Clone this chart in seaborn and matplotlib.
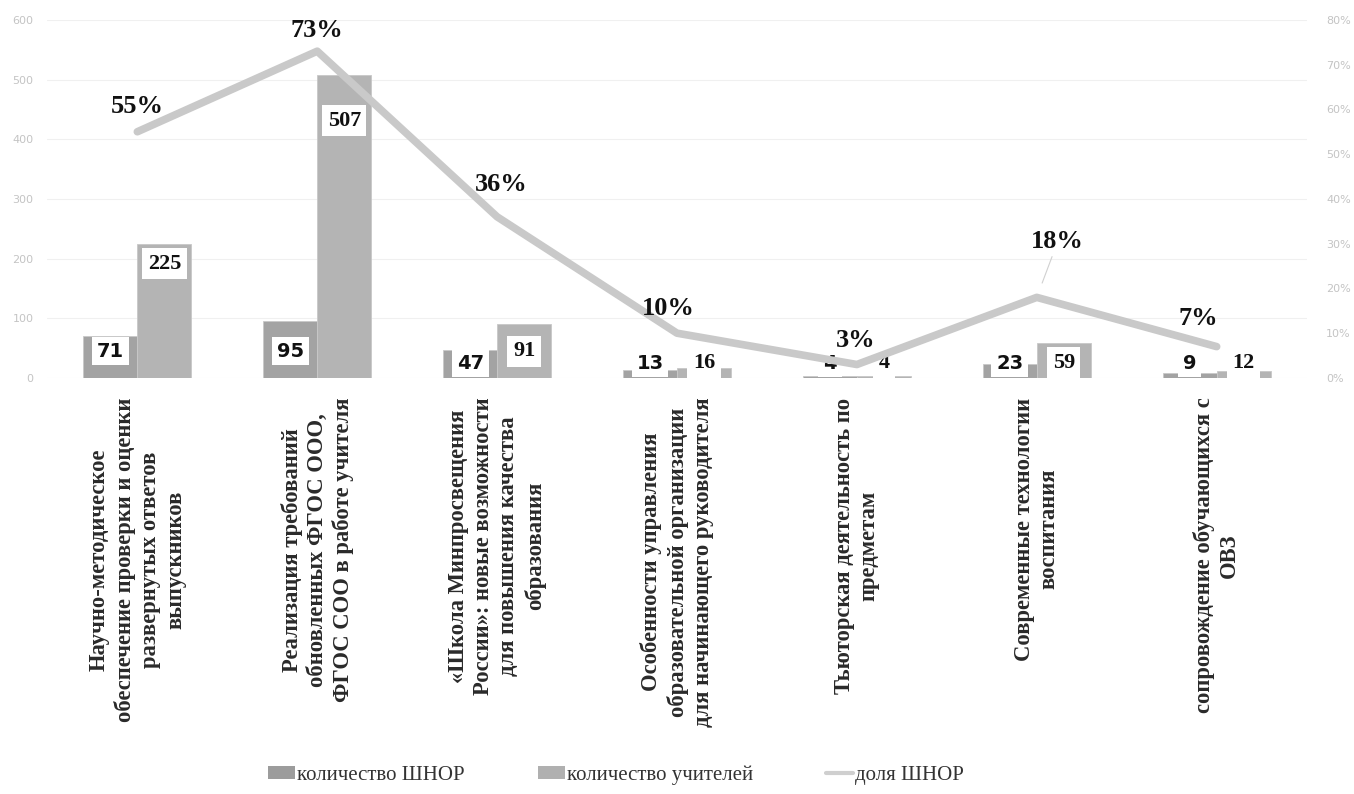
import numpy as np
import pandas as pd
import matplotlib
matplotlib.use("Agg")
import matplotlib.pyplot as plt
import seaborn as sns
from matplotlib.ticker import PercentFormatter, MultipleLocator
from matplotlib.patches import Patch
from matplotlib.lines import Line2D

categories = [
    "Научно-методическое\nобеспечение проверки и оценки\nразвернутых ответов\nвыпускников",
    "Реализация требований\nобновленных ФГОС ООО,\nФГОС СОО в работе учителя",
    "«Школа Минпросвещения\nРоссии»: новые возможности\nдля повышения качества\nобразования",
    "Особенности управления\nобразовательной организации\nдля начинающего руководителя",
    "Тьюторская деятельность по\nпредметам",
    "Современные технологии\nвоспитания",
    "сопровождение обучающихся с\nОВЗ",
]
shnor = [71, 95, 47, 13, 4, 23, 9]
teachers = [225, 507, 91, 16, 4, 59, 12]
share = [55, 73, 36, 10, 3, 18, 7]
series_names = ["количество ШНОР", "количество учителей", "доля ШНОР"]

sns.set_theme(style="white")
plt.rcParams["font.family"] = ["Liberation Serif", "DejaVu Serif"]

df = pd.DataFrame({
    "cat": categories * 2,
    "series": [series_names[0]] * 7 + [series_names[1]] * 7,
    "value": shnor + teachers,
})

fig = plt.figure(figsize=(13.54, 7.94), dpi=100)
ax = fig.add_axes([0.035, 0.524, 0.93, 0.451])

bar_colors = ["#a3a3a3", "#b4b4b4"]
sns.barplot(data=df, x="cat", y="value", hue="series", palette=bar_colors,
            width=0.6, gap=0, ax=ax, legend=False, saturation=1,
            edgecolor="#c8c8c8", linewidth=0.6)
ax.set_ylim(0, 600)
ax.set_xlim(-0.5, 6.5)
ax.yaxis.set_major_locator(MultipleLocator(100))
ax.set_xlabel("")
ax.set_ylabel("")
ax.grid(axis="y", color="#f0f0f0", linewidth=0.8)
ax.set_axisbelow(True)
for s in ax.spines.values():
    s.set_visible(False)
ax.tick_params(axis="y", length=0, labelsize=8, labelcolor="#c4c4c4", pad=10)
ax.tick_params(axis="x", length=0, pad=14)
ax.set_xticks(range(len(categories)))
ax.set_xticklabels(categories, rotation=90, fontsize=16.3, fontweight="bold",
                   color="#2a2a2a", ha="center", va="top",
                   multialignment="center", linespacing=1.25)
for lab in ax.get_yticklabels():
    lab.set_family("DejaVu Sans")

# bar value labels
label_fonts = ["DejaVu Sans", "Liberation Serif"]
for k, cont in enumerate(ax.containers):
    vals = shnor if k == 0 else teachers
    for patch, v in zip(cont.patches, vals):
        xc = patch.get_x() + patch.get_width() / 2
        if v >= 150:
            yl = v * 0.85
        elif v >= 60:
            yl = 45
        else:
            yl = 25
        ax.text(xc, yl, str(v), ha="center", va="center", fontsize=16 if k else 14,
                fontweight="bold", family=label_fonts[k], color="#111111",
                bbox=dict(boxstyle="square,pad=0.25", fc="white", ec="none"), zorder=5)

# line on secondary axis
ax2 = ax.twinx()
share_frac = [s / 100 for s in share]
sns.lineplot(x=np.arange(len(categories)), y=share_frac, ax=ax2, color="#c9c9c9",
             linewidth=5.5, legend=False, zorder=3)
ax2.set_ylim(0, 0.8)
ax2.set_xlim(-0.5, 6.5)
ax2.yaxis.set_major_locator(MultipleLocator(0.1))
ax2.yaxis.set_major_formatter(PercentFormatter(1.0, decimals=0))
ax2.tick_params(axis="y", length=0, labelsize=8, labelcolor="#c4c4c4", pad=14)
for lab in ax2.get_yticklabels():
    lab.set_family("DejaVu Sans")
for s in ax2.spines.values():
    s.set_visible(False)
ax2.grid(False)
ax2.set_ylabel("")

offsets = [(0, 18), (0, 15), (3, 23), (-6, 18), (-1, 17), (15, 40), (-13, 20)]
for i, (v, off) in enumerate(zip(share, offsets)):
    kw = {}
    if i == 5:
        kw["arrowprops"] = dict(arrowstyle="-", color="#d0d0d0", lw=0.8,
                                shrinkA=0, shrinkB=11)
    ax2.annotate(f"{v}%", (i, v / 100), xytext=off, textcoords="offset points",
                 ha="center", va="center", fontsize=19, fontweight="bold",
                 color="#111111", zorder=6, **kw)

handles = [
    Patch(facecolor="#9c9c9c", edgecolor="none"),
    Patch(facecolor="#b0b0b0", edgecolor="none"),
    Line2D([0], [0], color="#cfcfcf", lw=3),
]
fig.legend(handles, series_names, loc="center", bbox_to_anchor=(0.455, 0.024),
           ncol=3, frameon=False, fontsize=15, handlelength=1.3, handleheight=0.6,
           handletextpad=0.1, columnspacing=3.5, labelcolor="#333333")

fig.savefig("out.png", dpi=100)
